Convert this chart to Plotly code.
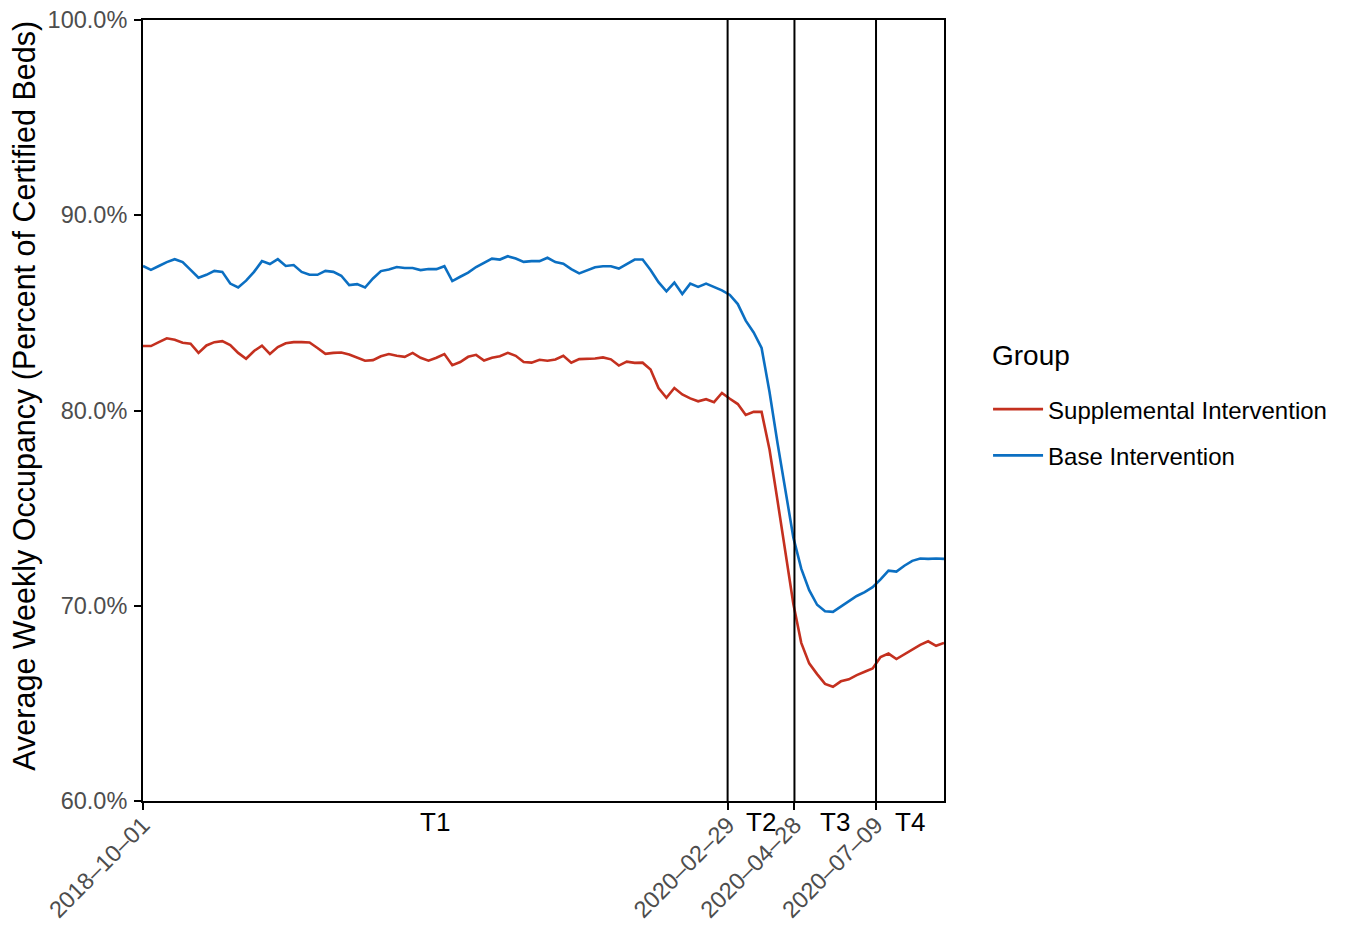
import plotly.graph_objects as go
import pandas as pd

# ---- data ----
start_date = "2018-10-01"
n_weeks = 102
week_dates = pd.date_range(start_date, periods=n_weeks, freq="7D")

supplemental = [
    83.3, 83.3, 83.5, 83.7, 83.62, 83.47, 83.42, 82.95, 83.33, 83.5,
    83.55, 83.35, 82.95, 82.65, 83.05, 83.32, 82.9, 83.25, 83.44, 83.5,
    83.5, 83.48, 83.2, 82.9, 82.95, 82.97, 82.87, 82.72, 82.55, 82.58,
    82.78, 82.89, 82.8, 82.75, 82.95, 82.7, 82.55, 82.7, 82.89, 82.32,
    82.48, 82.75, 82.85, 82.56, 82.7, 82.78, 82.95, 82.8, 82.48, 82.45,
    82.6, 82.55, 82.61, 82.8, 82.45, 82.63, 82.63, 82.66, 82.72, 82.62,
    82.3, 82.5, 82.44, 82.45, 82.1, 81.15, 80.65, 81.15, 80.82, 80.62,
    80.47, 80.58, 80.43, 80.9, 80.6, 80.33, 79.77, 79.93, 79.93, 78.0,
    75.4, 72.8, 70.1, 68.1, 67.05, 66.5, 66.0, 65.85, 66.13, 66.23,
    66.45, 66.62, 66.79, 67.37, 67.55, 67.27, 67.5, 67.75, 68.0, 68.18,
    67.95, 68.1,
]

base = [
    87.4, 87.2, 87.4, 87.6, 87.75, 87.6, 87.2, 86.8, 86.95, 87.15,
    87.1, 86.5, 86.3, 86.65, 87.1, 87.65, 87.5, 87.75, 87.4, 87.45,
    87.1, 86.95, 86.95, 87.15, 87.1, 86.9, 86.42, 86.47, 86.3, 86.76,
    87.14, 87.22, 87.35, 87.3, 87.3, 87.19, 87.25, 87.24, 87.39, 86.63,
    86.85, 87.06, 87.35, 87.57, 87.78, 87.73, 87.9, 87.78, 87.61, 87.65,
    87.65, 87.82, 87.6, 87.52, 87.24, 87.02, 87.18, 87.34, 87.39, 87.39,
    87.27, 87.52, 87.73, 87.73, 87.2, 86.57, 86.1, 86.55, 85.97, 86.5,
    86.33, 86.5, 86.33, 86.15, 85.92, 85.45, 84.6, 84.0, 83.2, 80.95,
    78.35, 75.86, 73.5, 71.9, 70.8, 70.05, 69.72, 69.69, 69.95, 70.2,
    70.5, 70.7, 70.95, 71.35, 71.8, 71.75, 72.05, 72.3, 72.42, 72.4,
    72.42, 72.4,
]

period_breaks = ["2018-10-01", "2020-02-29", "2020-04-28", "2020-07-09", "2020-09-07"]
period_labels = ["T1", "T2", "T3", "T4"]
x_tick_labels = ["2018\u201310\u201301", "2020\u201302\u201329", "2020\u201304\u201328", "2020\u201307\u201309"]
y_ticks = [60, 70, 80, 90, 100]
y_tick_labels = ["60.0%", "70.0%", "80.0%", "90.0%", "100.0%"]
y_title = "Average Weekly Occupancy (Percent of Certified Beds)"
legend_title = "Group"

RED = "#C4301F"
BLUE = "#0B6FC2"
FONT = "Liberation Sans, Arial, sans-serif"

fig = go.Figure()
fig.add_trace(go.Scatter(x=week_dates, y=supplemental, mode="lines",
                         name="Supplemental Intervention", legendgroup="s",
                         line=dict(color=RED, width=2.6)))
fig.add_trace(go.Scatter(x=week_dates, y=base, mode="lines",
                         name="Base Intervention", legendgroup="b",
                         line=dict(color=BLUE, width=2.6)))

# vertical period separators
for d in period_breaks[1:-1]:
    fig.add_shape(type="line", x0=d, x1=d, xref="x", y0=0, y1=1, yref="paper",
                  line=dict(color="black", width=2), layer="above")

# period labels centered in each period
bd = pd.to_datetime(period_breaks)
for i, lab in enumerate(period_labels):
    mid = bd[i] + (bd[i + 1] - bd[i]) / 2
    fig.add_annotation(x=mid, xref="x", y=0, yref="paper", text=lab,
                       showarrow=False, yanchor="top", yshift=-4,
                       font=dict(size=26, color="black", family=FONT))

# y axis title
fig.add_annotation(x=-0.1473, xref="paper", y=0.519, yref="paper", text=y_title,
                   showarrow=False, textangle=-90, xanchor="center", yanchor="middle",
                   font=dict(size=30.5, color="black", family=FONT))

# legend title
fig.add_annotation(x=1.057, xref="paper", y=0.57, yref="paper", text=legend_title,
                   showarrow=False, xanchor="left", yanchor="middle",
                   font=dict(size=28, color="black", family=FONT))

fig.update_layout(
    width=1347, height=925,
    margin=dict(l=135, r=411, t=12, b=132),
    paper_bgcolor="white", plot_bgcolor="white",
    font=dict(family=FONT, color="black"),
    showlegend=True,
    legend=dict(
        font=dict(size=24, color="black"),
        x=1.055, xanchor="left", y=0.530, yanchor="top",
        traceorder="grouped", tracegroupgap=12, itemwidth=50,
        bgcolor="rgba(0,0,0,0)",
    ),
    xaxis=dict(
        type="date", automargin=False,
        range=[period_breaks[0], period_breaks[-1]],
        tickvals=period_breaks[:-1],
        ticktext=x_tick_labels,
        tickangle=-45,
        tickfont=dict(size=23.5, color="#4d4d4d"),
        ticks="outside", ticklen=7, tickwidth=1.5, tickcolor="black",
        ticklabelstandoff=-8, ticklabeloverflow="allow",
        showgrid=False, zeroline=False,
        showline=True, linecolor="black", linewidth=2, mirror=True,
    ),
    yaxis=dict(
        automargin=False,
        range=[60, 100],
        tickvals=y_ticks, ticktext=y_tick_labels,
        tickfont=dict(size=23.5, color="#4d4d4d"),
        ticks="outside", ticklen=7, tickwidth=1.5, tickcolor="black",
        ticklabelstandoff=2, ticklabeloverflow="allow",
        showgrid=False, zeroline=False,
        showline=True, linecolor="black", linewidth=2, mirror=True,
    ),
)

fig.write_html("out.html")
